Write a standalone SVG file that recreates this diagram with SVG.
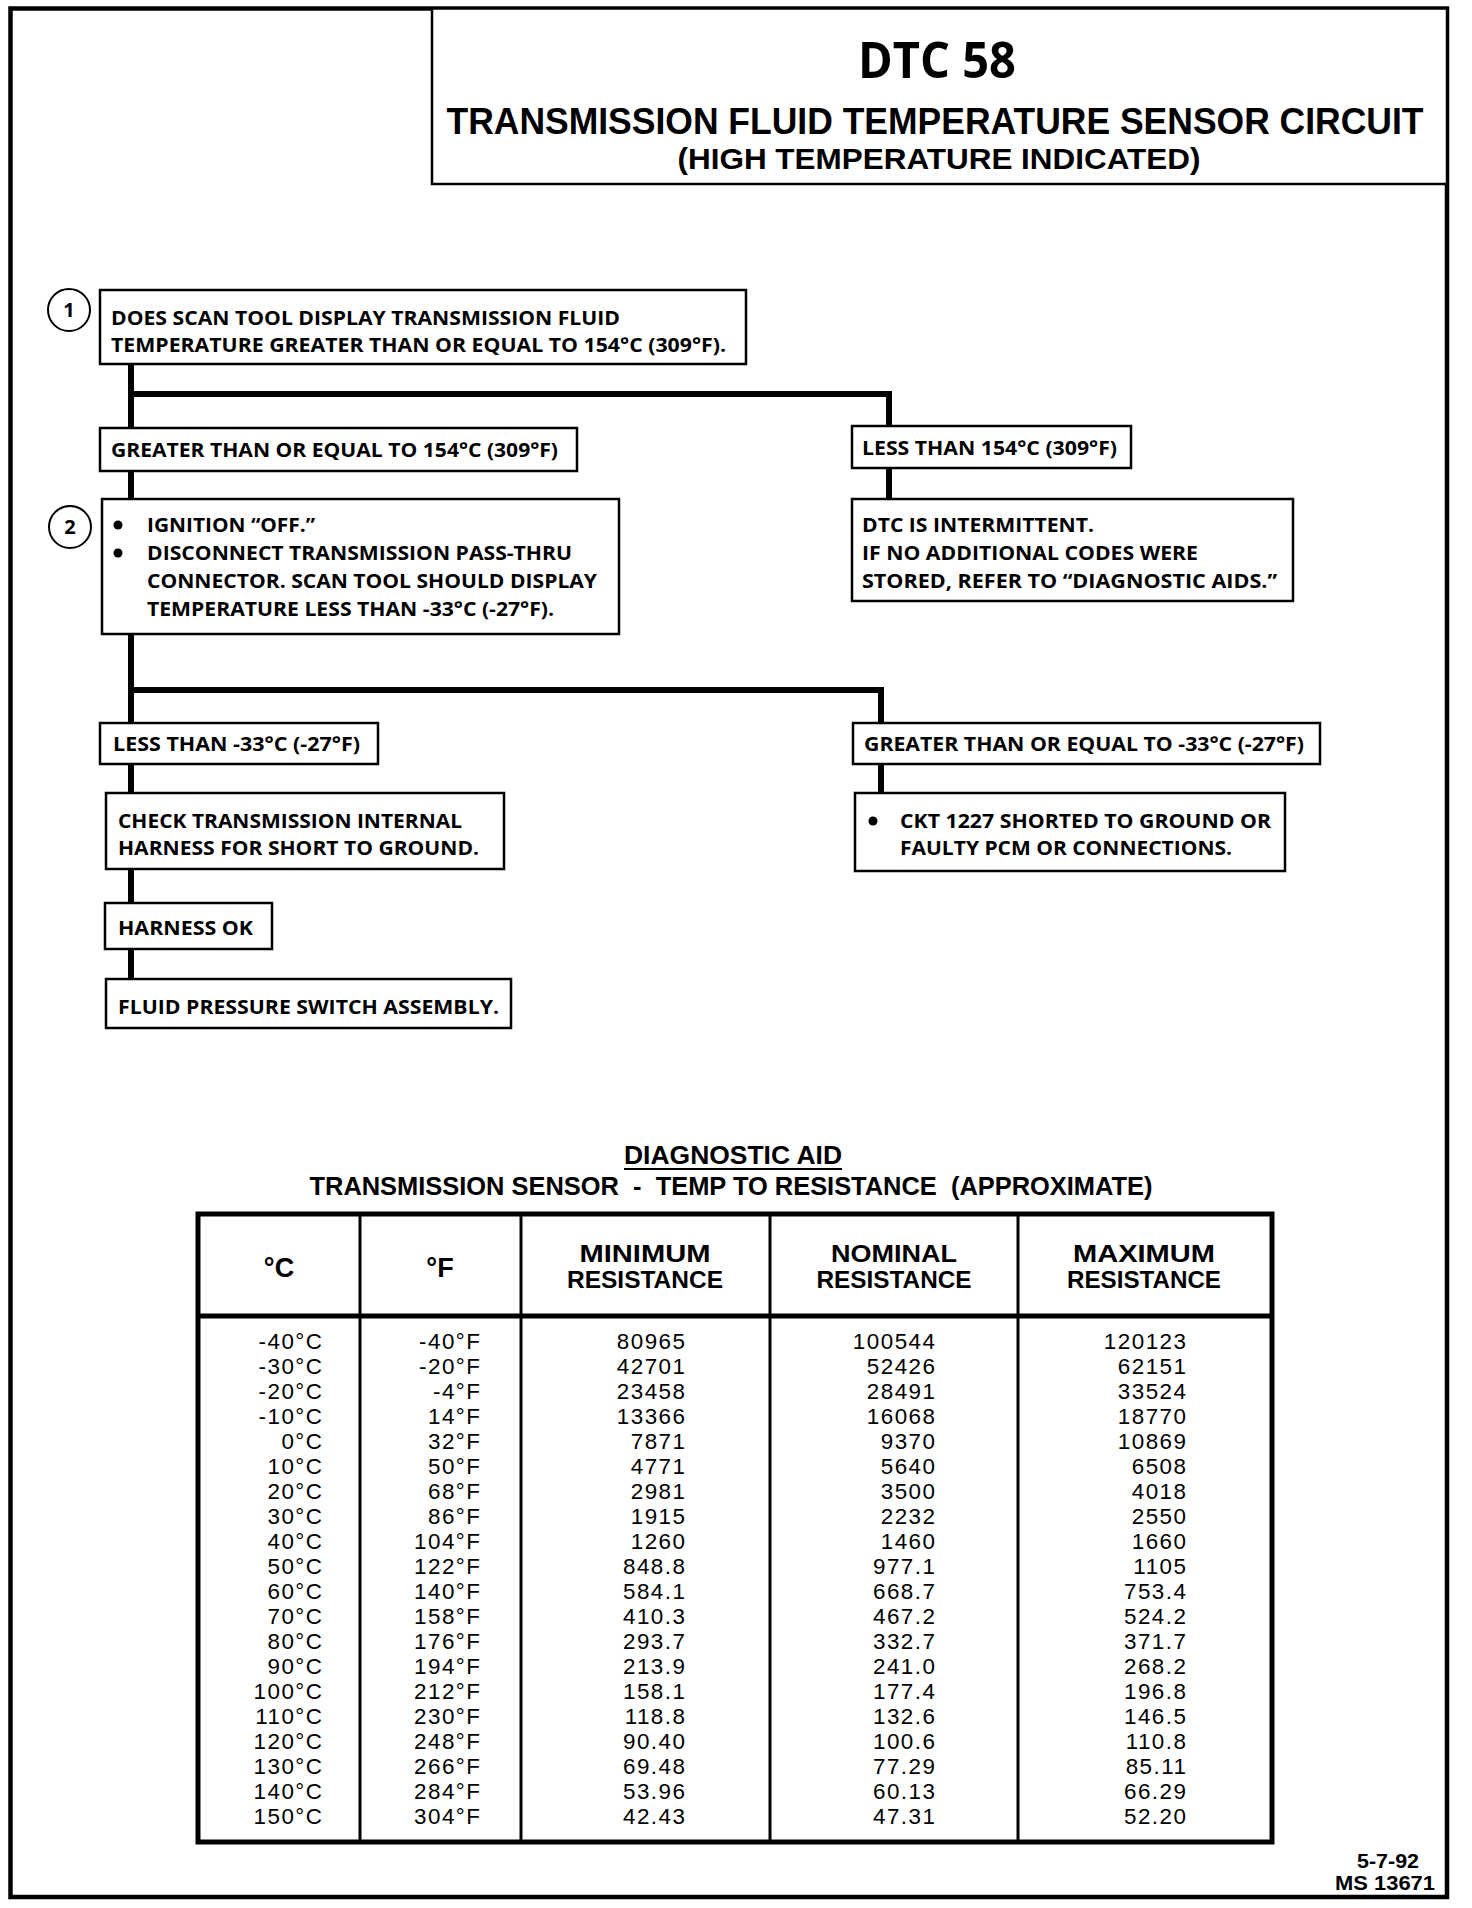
<svg xmlns="http://www.w3.org/2000/svg" width="1472" height="1908" viewBox="0 0 1472 1908">
<style>
  .bg{fill:#fff}
  .frame{fill:none;stroke:#000;stroke-width:4.5}
  .box{fill:#fff;stroke:#000;stroke-width:2.5}
  .circ{fill:#fff;stroke:#000;stroke-width:2}
  .wire{fill:none;stroke:#000;stroke-width:6;stroke-linecap:square}
  .t{font-family:"Open Sans","Liberation Sans",sans-serif;font-weight:700;fill:#000}
  .ls{font-family:"Liberation Sans",Arial,sans-serif;font-weight:700;fill:#000}
  .fl{font-size:19.5px}
  .num{font-size:20px;text-anchor:middle}
  .dot{fill:#000}
  .tbl{fill:none;stroke:#000;stroke-width:5}
  .col{stroke:#000;stroke-width:3}
  .hd{font-size:23px;text-anchor:middle}
  .d{font-family:"Liberation Sans",Arial,sans-serif;font-weight:400;font-size:22.4px;letter-spacing:1.5px;fill:#000;text-anchor:end}
</style>
<rect class="bg" x="0" y="0" width="1472" height="1908"/>
<rect class="frame" x="10.5" y="8.5" width="1436.5" height="1888.5"/>

<g id="title">
  <rect class="box" x="432" y="8.5" width="1015" height="175.5"/>
  <text class="t" x="937" y="78" font-size="50" text-anchor="middle" textLength="158" lengthAdjust="spacingAndGlyphs">DTC 58</text>
  <text class="ls" x="935" y="134" font-size="37" text-anchor="middle" textLength="977" lengthAdjust="spacingAndGlyphs">TRANSMISSION FLUID TEMPERATURE SENSOR CIRCUIT</text>
  <text class="ls" x="939" y="169" font-size="30" text-anchor="middle" textLength="523" lengthAdjust="spacingAndGlyphs">(HIGH TEMPERATURE INDICATED)</text>
</g>

<g id="connectors">
  <path class="wire" d="M131 364 V428"/>
  <path class="wire" d="M131 394 H889 V426"/>
  <path class="wire" d="M131 471 V499"/>
  <path class="wire" d="M889 468 V499"/>
  <path class="wire" d="M131 634 V723"/>
  <path class="wire" d="M131 690 H881 V723"/>
  <path class="wire" d="M131 764 V793"/>
  <path class="wire" d="M881 764 V793"/>
  <path class="wire" d="M131 869 V903"/>
  <path class="wire" d="M131 949 V979"/>
</g>

<g id="step1">
  <circle class="circ" cx="69" cy="310" r="21"/>
  <text class="t num" x="69" y="317">1</text>
  <rect class="box" x="100" y="290" width="646" height="74"/>
  <text class="t fl" x="111" y="325" textLength="509" lengthAdjust="spacingAndGlyphs">DOES SCAN TOOL DISPLAY TRANSMISSION FLUID</text>
  <text class="t fl" x="111" y="352" textLength="615" lengthAdjust="spacingAndGlyphs">TEMPERATURE GREATER THAN OR EQUAL TO 154°C (309°F).</text>
</g>

<g id="ge154">
  <rect class="box" x="100" y="428" width="477" height="43"/>
  <text class="t fl" x="111" y="457" textLength="447" lengthAdjust="spacingAndGlyphs">GREATER THAN OR EQUAL TO 154°C (309°F)</text>
</g>

<g id="lt154">
  <rect class="box" x="852" y="426" width="279" height="42"/>
  <text class="t fl" x="862" y="455" textLength="255" lengthAdjust="spacingAndGlyphs">LESS THAN 154°C (309°F)</text>
</g>

<g id="step2">
  <circle class="circ" cx="70" cy="527" r="21"/>
  <text class="t num" x="70" y="534">2</text>
  <rect class="box" x="102" y="499" width="517" height="135"/>
  <circle class="dot" cx="118" cy="525" r="4.5"/>
  <circle class="dot" cx="118" cy="553" r="4.5"/>
  <text class="t fl" x="147" y="532" textLength="168" lengthAdjust="spacingAndGlyphs">IGNITION “OFF.”</text>
  <text class="t fl" x="147" y="560" textLength="425" lengthAdjust="spacingAndGlyphs">DISCONNECT TRANSMISSION PASS-THRU</text>
  <text class="t fl" x="147" y="588" textLength="450" lengthAdjust="spacingAndGlyphs">CONNECTOR. SCAN TOOL SHOULD DISPLAY</text>
  <text class="t fl" x="147" y="616" textLength="407" lengthAdjust="spacingAndGlyphs">TEMPERATURE LESS THAN -33°C (-27°F).</text>
</g>

<g id="intermittent">
  <rect class="box" x="852" y="499" width="441" height="102"/>
  <text class="t fl" x="862" y="532" textLength="232" lengthAdjust="spacingAndGlyphs">DTC IS INTERMITTENT.</text>
  <text class="t fl" x="862" y="560" textLength="336" lengthAdjust="spacingAndGlyphs">IF NO ADDITIONAL CODES WERE</text>
  <text class="t fl" x="862" y="588" textLength="415" lengthAdjust="spacingAndGlyphs">STORED, REFER TO “DIAGNOSTIC AIDS.”</text>
</g>

<g id="lt33">
  <rect class="box" x="100" y="723" width="278" height="41"/>
  <text class="t fl" x="113" y="751" textLength="247" lengthAdjust="spacingAndGlyphs">LESS THAN -33°C (-27°F)</text>
</g>

<g id="ge33">
  <rect class="box" x="853" y="723" width="467" height="41"/>
  <text class="t fl" x="864" y="751" textLength="440" lengthAdjust="spacingAndGlyphs">GREATER THAN OR EQUAL TO -33°C (-27°F)</text>
</g>

<g id="check-harness">
  <rect class="box" x="106" y="793" width="398" height="76"/>
  <text class="t fl" x="118" y="828" textLength="344" lengthAdjust="spacingAndGlyphs">CHECK TRANSMISSION INTERNAL</text>
  <text class="t fl" x="118" y="855" textLength="361" lengthAdjust="spacingAndGlyphs">HARNESS FOR SHORT TO GROUND.</text>
</g>

<g id="ckt1227">
  <rect class="box" x="855" y="793" width="430" height="78"/>
  <circle class="dot" cx="873" cy="821" r="4.5"/>
  <text class="t fl" x="900" y="828" textLength="371" lengthAdjust="spacingAndGlyphs">CKT 1227 SHORTED TO GROUND OR</text>
  <text class="t fl" x="900" y="855" textLength="332" lengthAdjust="spacingAndGlyphs">FAULTY PCM OR CONNECTIONS.</text>
</g>

<g id="harness-ok">
  <rect class="box" x="105" y="903" width="167" height="46"/>
  <text class="t fl" x="118" y="935" textLength="135" lengthAdjust="spacingAndGlyphs">HARNESS OK</text>
</g>

<g id="fluid-switch">
  <rect class="box" x="106" y="979" width="405" height="49"/>
  <text class="t fl" x="118" y="1014" textLength="381" lengthAdjust="spacingAndGlyphs">FLUID PRESSURE SWITCH ASSEMBLY.</text>
</g>

<g id="table">
  <text class="ls" x="733" y="1164" font-size="25" text-anchor="middle" textLength="218" lengthAdjust="spacingAndGlyphs">DIAGNOSTIC AID</text>
  <line x1="624" y1="1169" x2="842" y2="1169" stroke="#000" stroke-width="2"/>
  <text class="ls" x="731" y="1195" font-size="26" text-anchor="middle" textLength="843" lengthAdjust="spacingAndGlyphs" style="white-space:pre">TRANSMISSION SENSOR  -  TEMP TO RESISTANCE  (APPROXIMATE)</text>
  <rect class="tbl" x="198" y="1214" width="1074" height="628"/>
  <line class="tbl" x1="198" y1="1316" x2="1272" y2="1316"/>
  <line class="col" x1="360" y1="1214" x2="360" y2="1842"/>
  <line class="col" x1="521" y1="1214" x2="521" y2="1842"/>
  <line class="col" x1="770" y1="1214" x2="770" y2="1842"/>
  <line class="col" x1="1018" y1="1214" x2="1018" y2="1842"/>
  <text class="ls" x="279" y="1277" font-size="27" text-anchor="middle">°C</text>
  <text class="ls" x="440" y="1277" font-size="27" text-anchor="middle">°F</text>
  <text class="ls hd" x="645" y="1262" textLength="131" lengthAdjust="spacingAndGlyphs">MINIMUM</text>
  <text class="ls hd" x="645" y="1288" textLength="156" lengthAdjust="spacingAndGlyphs">RESISTANCE</text>
  <text class="ls hd" x="894" y="1262" textLength="126" lengthAdjust="spacingAndGlyphs">NOMINAL</text>
  <text class="ls hd" x="894" y="1288" textLength="155" lengthAdjust="spacingAndGlyphs">RESISTANCE</text>
  <text class="ls hd" x="1144" y="1262" textLength="142" lengthAdjust="spacingAndGlyphs">MAXIMUM</text>
  <text class="ls hd" x="1144" y="1288" textLength="154" lengthAdjust="spacingAndGlyphs">RESISTANCE</text>

  <text class="d" x="323.5" y="1349"><tspan x="323.5" dy="0">-40°C</tspan><tspan x="323.5" dy="25">-30°C</tspan><tspan x="323.5" dy="25">-20°C</tspan><tspan x="323.5" dy="25">-10°C</tspan><tspan x="323.5" dy="25">0°C</tspan><tspan x="323.5" dy="25">10°C</tspan><tspan x="323.5" dy="25">20°C</tspan><tspan x="323.5" dy="25">30°C</tspan><tspan x="323.5" dy="25">40°C</tspan><tspan x="323.5" dy="25">50°C</tspan><tspan x="323.5" dy="25">60°C</tspan><tspan x="323.5" dy="25">70°C</tspan><tspan x="323.5" dy="25">80°C</tspan><tspan x="323.5" dy="25">90°C</tspan><tspan x="323.5" dy="25">100°C</tspan><tspan x="323.5" dy="25">110°C</tspan><tspan x="323.5" dy="25">120°C</tspan><tspan x="323.5" dy="25">130°C</tspan><tspan x="323.5" dy="25">140°C</tspan><tspan x="323.5" dy="25">150°C</tspan></text>
  <text class="d" x="481.5" y="1349"><tspan x="481.5" dy="0">-40°F</tspan><tspan x="481.5" dy="25">-20°F</tspan><tspan x="481.5" dy="25">-4°F</tspan><tspan x="481.5" dy="25">14°F</tspan><tspan x="481.5" dy="25">32°F</tspan><tspan x="481.5" dy="25">50°F</tspan><tspan x="481.5" dy="25">68°F</tspan><tspan x="481.5" dy="25">86°F</tspan><tspan x="481.5" dy="25">104°F</tspan><tspan x="481.5" dy="25">122°F</tspan><tspan x="481.5" dy="25">140°F</tspan><tspan x="481.5" dy="25">158°F</tspan><tspan x="481.5" dy="25">176°F</tspan><tspan x="481.5" dy="25">194°F</tspan><tspan x="481.5" dy="25">212°F</tspan><tspan x="481.5" dy="25">230°F</tspan><tspan x="481.5" dy="25">248°F</tspan><tspan x="481.5" dy="25">266°F</tspan><tspan x="481.5" dy="25">284°F</tspan><tspan x="481.5" dy="25">304°F</tspan></text>
  <text class="d" x="686.5" y="1349"><tspan x="686.5" dy="0">80965</tspan><tspan x="686.5" dy="25">42701</tspan><tspan x="686.5" dy="25">23458</tspan><tspan x="686.5" dy="25">13366</tspan><tspan x="686.5" dy="25">7871</tspan><tspan x="686.5" dy="25">4771</tspan><tspan x="686.5" dy="25">2981</tspan><tspan x="686.5" dy="25">1915</tspan><tspan x="686.5" dy="25">1260</tspan><tspan x="686.5" dy="25">848.8</tspan><tspan x="686.5" dy="25">584.1</tspan><tspan x="686.5" dy="25">410.3</tspan><tspan x="686.5" dy="25">293.7</tspan><tspan x="686.5" dy="25">213.9</tspan><tspan x="686.5" dy="25">158.1</tspan><tspan x="686.5" dy="25">118.8</tspan><tspan x="686.5" dy="25">90.40</tspan><tspan x="686.5" dy="25">69.48</tspan><tspan x="686.5" dy="25">53.96</tspan><tspan x="686.5" dy="25">42.43</tspan></text>
  <text class="d" x="936.5" y="1349"><tspan x="936.5" dy="0">100544</tspan><tspan x="936.5" dy="25">52426</tspan><tspan x="936.5" dy="25">28491</tspan><tspan x="936.5" dy="25">16068</tspan><tspan x="936.5" dy="25">9370</tspan><tspan x="936.5" dy="25">5640</tspan><tspan x="936.5" dy="25">3500</tspan><tspan x="936.5" dy="25">2232</tspan><tspan x="936.5" dy="25">1460</tspan><tspan x="936.5" dy="25">977.1</tspan><tspan x="936.5" dy="25">668.7</tspan><tspan x="936.5" dy="25">467.2</tspan><tspan x="936.5" dy="25">332.7</tspan><tspan x="936.5" dy="25">241.0</tspan><tspan x="936.5" dy="25">177.4</tspan><tspan x="936.5" dy="25">132.6</tspan><tspan x="936.5" dy="25">100.6</tspan><tspan x="936.5" dy="25">77.29</tspan><tspan x="936.5" dy="25">60.13</tspan><tspan x="936.5" dy="25">47.31</tspan></text>
  <text class="d" x="1187.5" y="1349"><tspan x="1187.5" dy="0">120123</tspan><tspan x="1187.5" dy="25">62151</tspan><tspan x="1187.5" dy="25">33524</tspan><tspan x="1187.5" dy="25">18770</tspan><tspan x="1187.5" dy="25">10869</tspan><tspan x="1187.5" dy="25">6508</tspan><tspan x="1187.5" dy="25">4018</tspan><tspan x="1187.5" dy="25">2550</tspan><tspan x="1187.5" dy="25">1660</tspan><tspan x="1187.5" dy="25">1105</tspan><tspan x="1187.5" dy="25">753.4</tspan><tspan x="1187.5" dy="25">524.2</tspan><tspan x="1187.5" dy="25">371.7</tspan><tspan x="1187.5" dy="25">268.2</tspan><tspan x="1187.5" dy="25">196.8</tspan><tspan x="1187.5" dy="25">146.5</tspan><tspan x="1187.5" dy="25">110.8</tspan><tspan x="1187.5" dy="25">85.11</tspan><tspan x="1187.5" dy="25">66.29</tspan><tspan x="1187.5" dy="25">52.20</tspan></text>
</g>

<g id="footer">
  <text class="ls" x="1419" y="1868" font-size="19.5" text-anchor="end" textLength="62" lengthAdjust="spacingAndGlyphs">5-7-92</text>
  <text class="ls" x="1435" y="1890" font-size="19.5" text-anchor="end" textLength="100" lengthAdjust="spacingAndGlyphs">MS 13671</text>
</g>
</svg>
